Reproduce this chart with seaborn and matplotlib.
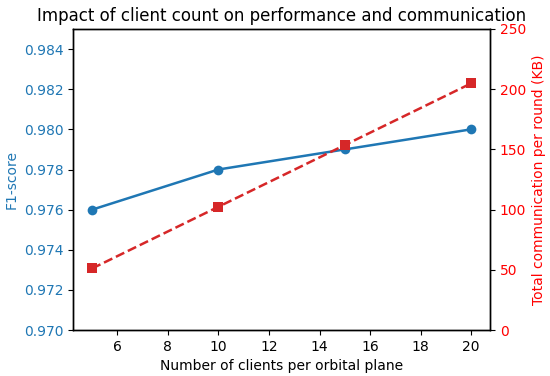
import matplotlib
matplotlib.use("Agg")
import matplotlib.pyplot as plt
import seaborn as sns
import pandas as pd

sns.set_style("ticks", {"axes.edgecolor": "black", "xtick.color": "black", "ytick.color": "black",
                        "text.color": "black", "axes.labelcolor": "black"})
plt.rcParams["font.family"] = ["DejaVu Sans"]

clients = [5, 10, 15, 20]
f1_score = [0.976, 0.978, 0.979, 0.980]
comm_kb = [51.2, 102.4, 153.6, 204.8]

df = pd.DataFrame({"clients": clients, "f1": f1_score, "comm": comm_kb})

fig, ax = plt.subplots(figsize=(5.5, 3.76), dpi=100)
fig.subplots_adjust(left=0.133, right=0.891, top=0.923, bottom=0.122)

sns.lineplot(data=df, x="clients", y="f1", ax=ax, color="tab:blue", marker="o",
             markersize=7, markeredgewidth=0, linewidth=1.8)
ax.set_ylim(0.970, 0.985)
ax.set_yticks([0.970, 0.972, 0.974, 0.976, 0.978, 0.980, 0.982, 0.984])
ax.set_xticks([6, 8, 10, 12, 14, 16, 18, 20])
ax.set_xlabel("Number of clients per orbital plane")
ax.set_ylabel("F1-score", color="tab:blue")
ax.tick_params(axis="y", labelcolor="tab:blue")

ax2 = ax.twinx()
sns.lineplot(data=df, x="clients", y="comm", ax=ax2, color="tab:red", marker="s",
             markersize=7, markeredgewidth=0, linewidth=1.8, linestyle="--")
ax2.set_ylim(0, 250)
ax2.set_ylabel("Total communication per round (KB)", color="red")
ax2.tick_params(axis="y", labelcolor="red")

for a in (ax, ax2):
    for s in a.spines.values():
        s.set_visible(True)
        s.set_linewidth(1.0)

ax.set_title("Impact of client count on performance and communication", fontsize=12)

fig.savefig("out.png", dpi=100)
